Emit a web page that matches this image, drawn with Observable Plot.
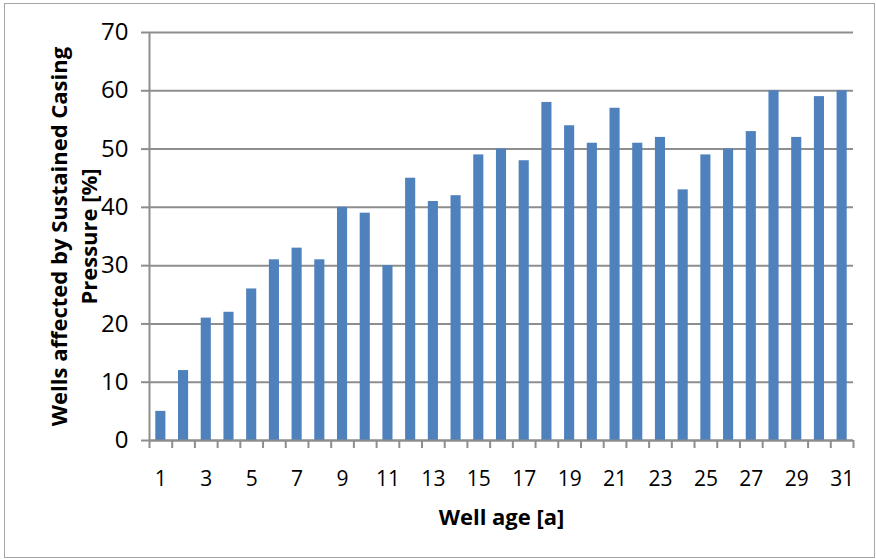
<!DOCTYPE html>
<html>
<head>
<meta charset="utf-8">
<script src="https://cdn.jsdelivr.net/npm/d3@7"></script>
<script src="https://cdn.jsdelivr.net/npm/@observablehq/plot@0.6"></script>
<style>
  body { margin: 0; background: #fff; }
  #wrap { position: relative; width: 876px; height: 559px; }
  #border { position: absolute; left: 4px; top: 3px; width: 869px; height: 553px; border: 1.5px solid #a6a6a6; pointer-events: none; }
</style>
</head>
<body>
<div id="wrap"><div id="border"></div></div>
<script>
const ages = [1,2,3,4,5,6,7,8,9,10,11,12,13,14,15,16,17,18,19,20,21,22,23,24,25,26,27,28,29,30,31];
const values = [5,12,21,22,26,31,33,31,40,39,30,45,41,42,49,50,48,58,54,51,57,51,52,43,49,50,53,60,52,59,60];
const yTicks = [0,10,20,30,40,50,60,70];
const xTickLabels = [1,3,5,7,9,11,13,15,17,19,21,23,25,27,29,31];
const xTitle = "Well age [a]";
const yTitle = "Wells affected by Sustained Casing\nPressure [%]";

const data = ages.map((a, i) => ({age: a, value: values[i]}));
const boundaries = ages.map(a => a - 0.5).concat([ages[ages.length - 1] + 0.5]);

const font = "'Open Sans', sans-serif";
const gray = "#8e8e8e";

const chart = Plot.plot({
  width: 876,
  height: 559,
  marginLeft: 149,
  marginRight: 23,
  marginTop: 32,
  marginBottom: 119,
  style: {fontFamily: font, background: "transparent", overflow: "visible"},
  x: {type: "linear", domain: [0.5, 31.5]},
  y: {domain: [0, 70]},
  marks: [
    Plot.gridY(yTicks, {stroke: gray, strokeOpacity: 1, strokeWidth: 2}),
    Plot.rectY(data, {x1: d => d.age - 0.5, x2: d => d.age + 0.5, y1: 0, y2: "value", fill: "#4F81BD", insetLeft: 6.3, insetRight: 6.3}),
    Plot.ruleX([0.5], {stroke: gray, strokeWidth: 2}),
    Plot.ruleY([0], {stroke: gray, strokeWidth: 2}),
    Plot.axisY(yTicks, {tickSize: 8, tickPadding: 13, stroke: gray, strokeWidth: 2, fontSize: 24, fill: "#000", label: null}),
    Plot.axisX(boundaries, {tickSize: 8, stroke: gray, strokeWidth: 2, tickFormat: () => "", label: null}),
    Plot.axisX(xTickLabels, {tickSize: 0, tickPadding: 31, fontSize: 21, fill: "#000", label: null}),
    Plot.text([xTitle], {frameAnchor: "bottom", dy: 77, fontSize: 22, fontWeight: "bold", fill: "#000", lineAnchor: "middle", fontFamily: font}),
    Plot.text([yTitle], {frameAnchor: "left", dx: -77, rotate: -90, textAnchor: "middle", lineAnchor: "middle", lineHeight: 1.35, fontSize: 22, fontWeight: "bold", fill: "#000", fontFamily: font})
  ]
});
document.getElementById("wrap").prepend(chart);
</script>
</body>
</html>
